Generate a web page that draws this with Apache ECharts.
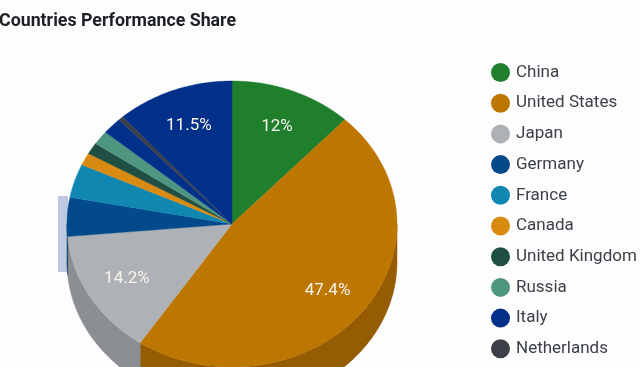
<!DOCTYPE html>
<html><head><meta charset="utf-8">
<style>html,body{margin:0;padding:0;background:#fdfdfe}#c{width:640px;height:367px}</style>
<script src="https://cdn.jsdelivr.net/npm/echarts@6/dist/echarts.min.js"></script>
</head><body><div id="c"></div>
<script>
const titleText = 'Countries Performance Share';
const categories = ['China','United States','Japan','Germany','France','Canada','United Kingdom','Russia','Italy','Netherlands','Others'];
const shares = [12, 47.4, 14.2, 4.4, 3.8, 1.4, 1.3, 1.6, 1.9, 0.5, 11.5];
const labelled = ['12%','47.4%','14.2%','','','','','','','','11.5%'];
const faceColors = ['#1f7f2c','#bd7700','#aeb2b6','#034a8c','#0f87b0','#d98a10','#1f4f42','#4e9680','#00308a','#3c3f48','#00308a'];
const wallColors = ['#175f20','#955c03','#8b8e93','#023a6e','#0c6a8a','#aa6c0c','#183e34','#3d7665','#00266c','#2f3139','#00266c'];

const cx = 232, cy = 224, rx = 165, ry = 143, depth = 38;
const total = shares.reduce((a, b) => a + b, 0);
const startOf = i => shares.slice(0, i).reduce((a, b) => a + b, 0) / total * 360;
const pt = (deg, f, dy) => {
  const t = deg * Math.PI / 180;
  return [cx + rx * f * Math.sin(t), cy + (dy || 0) - ry * f * Math.cos(t)];
};
const arc = (a, b, dy) => {
  const out = [], n = Math.max(2, Math.ceil(Math.abs(b - a)));
  for (let k = 0; k <= n; k++) out.push(pt(a + (b - a) * k / n, 1, dy));
  return out;
};

function wallItem(i) {
  return function () {
    const a = Math.max(startOf(i), 90), b = Math.min(startOf(i + 1), 270);
    if (b <= a) return { type: 'group', children: [] };
    return { type: 'polygon', shape: { points: arc(a, b, 0).concat(arc(b, a, depth)) },
      style: { fill: wallColors[i], stroke: wallColors[i], lineWidth: 0.5 } };
  };
}
function faceItem(i) {
  return function () {
    const a = startOf(i), b = startOf(i + 1);
    const children = [{ type: 'polygon', shape: { points: [[cx, cy]].concat(arc(a, b, 0)) },
      style: { fill: faceColors[i], stroke: faceColors[i], lineWidth: 0.4 } }];
    if (labelled[i]) {
      const p = pt((a + b) / 2, 0.74, 1);
      children.push({ type: 'text', x: p[0], y: p[1], z2: 10,
        style: { text: labelled[i], fill: '#f6f3ea', font: '17px Roboto', align: 'center', verticalAlign: 'middle' } });
    }
    return { type: 'group', children };
  };
}

const series = [];
categories.forEach((name, i) => {
  series.push({ type: 'custom', coordinateSystem: 'none', name: name + ' side', z: 2, silent: true,
    data: [shares[i]], renderItem: wallItem(i), animation: false });
});
categories.forEach((name, i) => {
  series.push({ type: 'custom', coordinateSystem: 'none', name, z: 3, silent: true,
    itemStyle: { color: faceColors[i] },
    data: [shares[i]], renderItem: faceItem(i), animation: false });
});

const chart = echarts.init(document.getElementById('c'), null, { renderer: 'canvas' });
chart.setOption({
  animation: false,
  backgroundColor: '#fdfdfe',
  title: { text: titleText, left: -1, top: 13, padding: 0,
    textStyle: { fontFamily: 'Roboto', fontWeight: 'bold', fontSize: 17.8, color: '#1d2025' } },
  legend: { orient: 'vertical', left: 491, top: 63, padding: 0, itemWidth: 19, itemHeight: 19, itemGap: 11.7,
    icon: 'circle', selectedMode: false, data: categories.slice(0, 10),
    textStyle: { fontFamily: 'Roboto', fontSize: 17, color: '#3b3f47', padding: [1, 0, 0, 1] } },
  graphic: [{ type: 'rect', z: 0, shape: { x: 58, y: 196, width: 10, height: 76 },
    style: { fill: '#bcc9de' }, silent: true }],
  series
});
</script></body></html>
